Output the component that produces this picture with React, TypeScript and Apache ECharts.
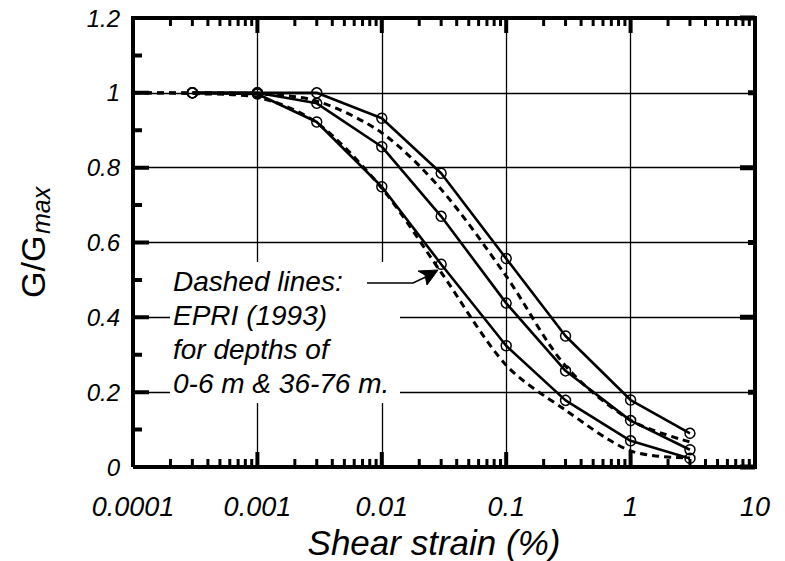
import React, { useEffect, useRef } from "react";
import * as echarts from "echarts";

// ---- data ----
const strain = [0.0003, 0.001, 0.003, 0.01, 0.03, 0.1, 0.3, 1, 3];
const ggUpper = [1.0, 1.0, 1.0, 0.932, 0.785, 0.557, 0.35, 0.179, 0.09];
const ggMiddle = [1.0, 1.0, 0.972, 0.856, 0.67, 0.438, 0.257, 0.124, 0.046];
const ggLower = [1.0, 0.997, 0.922, 0.749, 0.542, 0.324, 0.178, 0.07, 0.023];

const epriStrain = [0.0001, 0.0003, 0.001, 0.003, 0.01, 0.03, 0.1, 0.3, 1, 3];
const epriDeep = [1.0, 1.0, 0.997, 0.978, 0.893, 0.742, 0.51, 0.27, 0.125, 0.067];
const epriShallow = [1.0, 0.998, 0.988, 0.92, 0.745, 0.52, 0.272, 0.152, 0.043, 0.024];

const xMajorTicks = [0.0001, 0.001, 0.01, 0.1, 1, 10];
const xTickLabels = ["0.0001", "0.001", "0.01", "0.1", "1", "10"];
const minorMultipliers = [2, 3, 4, 5, 6, 7, 8, 9];
const yLeftMajor = [0, 0.2, 0.4, 0.6, 0.8, 1.0, 1.2];
const yLeftMinor = [0.1, 0.3, 0.5, 0.7, 0.9, 1.1];
const yRightMajor = [0, 0.4, 0.8, 1.2];
const yRightMinor = [0.2, 0.6, 1.0];

const xTitle = "Shear strain (%)";
const annotationLines = ["Dashed lines:", "EPRI (1993)", "for depths of", "0-6 m & 36-76 m."];

const X_MIN = 0.0001;
const X_MAX = 10;
const Y_MIN = 0;
const Y_MAX = 1.2;

const GRID = { left: 133, right: 30, top: 18, bottom: 94 };
const W = 785;
const H = 561;

const FONT = "'Liberation Sans', Arial, Helvetica, sans-serif";

const xMinorTicks: number[] = [];
xMajorTicks.slice(0, -1).forEach((d) => minorMultipliers.forEach((m) => xMinorTicks.push(+(d * m).toPrecision(6))));

const pairs = (xs: number[], ys: number[]) => xs.map((x, i) => [x, ys[i]]);

// tick lengths (pixels) turned into data units of the grid
const plotW = W - GRID.left - GRID.right;
const plotH = H - GRID.top - GRID.bottom;
const decades = Math.log10(X_MAX) - Math.log10(X_MIN);
const yLen = (pxLen: number) => (pxLen / plotH) * (Y_MAX - Y_MIN);
const xFactor = (pxLen: number) => Math.pow(10, (pxLen / plotW) * decades);

function xTickSegments(values: number[], pxLen: number) {
  const out: any[] = [];
  values.forEach((v) => {
    out.push([v, Y_MIN], [v, Y_MIN + yLen(pxLen)], [v, null]);
    out.push([v, Y_MAX], [v, Y_MAX - yLen(pxLen)], [v, null]);
  });
  return out;
}
function yLeftSegments(values: number[], pxLen: number) {
  const out: any[] = [];
  values.forEach((v) => out.push([X_MIN, v], [X_MIN * xFactor(pxLen), v], [X_MIN, null]));
  return out;
}
function yRightSegments(values: number[], pxLen: number) {
  const out: any[] = [];
  values.forEach((v) => out.push([X_MAX, v], [X_MAX / xFactor(pxLen), v], [X_MAX, null]));
  return out;
}

export default function App() {
  const ref = useRef<HTMLDivElement>(null);
  useEffect(() => {
    if (!ref.current) return;
    const chart = echarts.init(ref.current, null, { renderer: "svg" });
    const black = "#000";

    const fmtX = (v: number) => {
      let best = 0;
      xMajorTicks.forEach((t, i) => {
        if (Math.abs(Math.log10(t) - Math.log10(v)) < Math.abs(Math.log10(xMajorTicks[best]) - Math.log10(v))) best = i;
      });
      return xTickLabels[best];
    };

    const solid = (name: string, ys: number[]) => ({
      name,
      type: "line",
      data: pairs(strain, ys),
      symbol: "circle",
      symbolSize: 10,
      showSymbol: true,
      itemStyle: { color: "rgba(0,0,0,0)", borderColor: black, borderWidth: 1.5 },
      lineStyle: { color: black, width: 2.6 },
      z: 3,
    });
    const dashed = (name: string, ys: number[]) => ({
      name,
      type: "line",
      data: pairs(epriStrain, ys),
      symbol: "none",
      smooth: 0.3,
      lineStyle: { color: black, width: 3, type: [7, 5] },
      z: 2,
    });
    const marks = (name: string, data: any[], width: number) => ({
      name,
      type: "line",
      data,
      symbol: "none",
      connectNulls: false,
      clip: false,
      silent: true,
      lineStyle: { color: black, width, cap: "butt", join: "miter" },
      z: 5,
    });

    chart.setOption({
      animation: false,
      backgroundColor: "#fff",
      tooltip: { show: false },
      grid: GRID,
      xAxis: {
        type: "log",
        logBase: 10,
        min: X_MIN,
        max: X_MAX,
        position: "bottom",
        axisLine: { show: false },
        axisTick: { show: false },
        axisLabel: {
          show: true,
          customValues: xMajorTicks,
          formatter: fmtX,
          fontSize: 27,
          fontStyle: "italic",
          color: black,
          margin: 26,
          fontFamily: FONT,
        },
        splitLine: { show: true, lineStyle: { color: black, width: 1.3 } },
      },
      yAxis: {
        type: "value",
        position: "left",
        min: Y_MIN,
        max: Y_MAX,
        interval: 0.2,
        axisLine: { show: false },
        axisTick: { show: false },
        axisLabel: { fontSize: 24, fontStyle: "italic", color: black, margin: 13, fontFamily: FONT },
        splitLine: { show: true, lineStyle: { color: black, width: 1.3 } },
      },
      series: [
        dashed("EPRI (1993) 36-76 m", epriDeep),
        dashed("EPRI (1993) 0-6 m", epriShallow),
        solid("Upper", ggUpper),
        solid("Middle", ggMiddle),
        solid("Lower", ggLower),
        marks(
          "frame",
          [[X_MIN, Y_MIN], [X_MAX, Y_MIN], [X_MAX, Y_MAX], [X_MIN, Y_MAX], [X_MIN, Y_MIN]],
          4
        ),
        marks("x major ticks", xTickSegments(xMajorTicks, 15), 4),
        marks("x minor ticks", xTickSegments(xMinorTicks, 8), 3),
        marks("y left major ticks", yLeftSegments(yLeftMajor, 16), 4),
        marks("y left minor ticks", yLeftSegments(yLeftMinor, 9), 4),
        marks("y right major ticks", yRightSegments(yRightMajor, 15), 5),
        marks("y right minor ticks", yRightSegments(yRightMinor, 7), 5),
      ],
      graphic: [
        {
          type: "text",
          x: 434,
          y: 542,
          style: { text: xTitle, font: `italic 35px ${FONT}`, fill: black, textAlign: "center", textVerticalAlign: "middle" },
        },
        {
          type: "group",
          x: 33,
          y: 240,
          rotation: Math.PI / 2,
          children: [
            {
              type: "text",
              x: -58,
              y: 0,
              style: { text: "G/G", font: `34px ${FONT}`, fill: black, textAlign: "left", textVerticalAlign: "middle" },
            },
            {
              type: "text",
              x: 6,
              y: 8,
              style: { text: "max", font: `italic 25px ${FONT}`, fill: black, textAlign: "left", textVerticalAlign: "middle" },
            },
          ],
        },
        {
          type: "rect",
          shape: { x: 170, y: 262, width: 230, height: 141 },
          style: { fill: "#fff" },
          z: 1,
        },
        {
          type: "text",
          x: 173,
          y: 264,
          z: 4,
          style: {
            text: annotationLines.join("\n"),
            font: `italic 28px ${FONT}`,
            lineHeight: 34,
            fill: black,
            textAlign: "left",
            textVerticalAlign: "top",
          },
        },
        {
          type: "polyline",
          z: 4,
          shape: { points: [[367, 283], [413, 283], [430, 275]] },
          style: { stroke: black, lineWidth: 1.6, fill: "none" },
        },
        {
          type: "polygon",
          z: 4,
          shape: { points: [[438, 270], [418, 271], [425, 275], [427, 285]] },
          style: { fill: black, stroke: black, lineWidth: 1 },
        },
      ],
    });

    return () => chart.dispose();
  }, []);
  return <div ref={ref} style={{ position: "absolute", left: 0, top: 0, width: W, height: H }} />;
}
